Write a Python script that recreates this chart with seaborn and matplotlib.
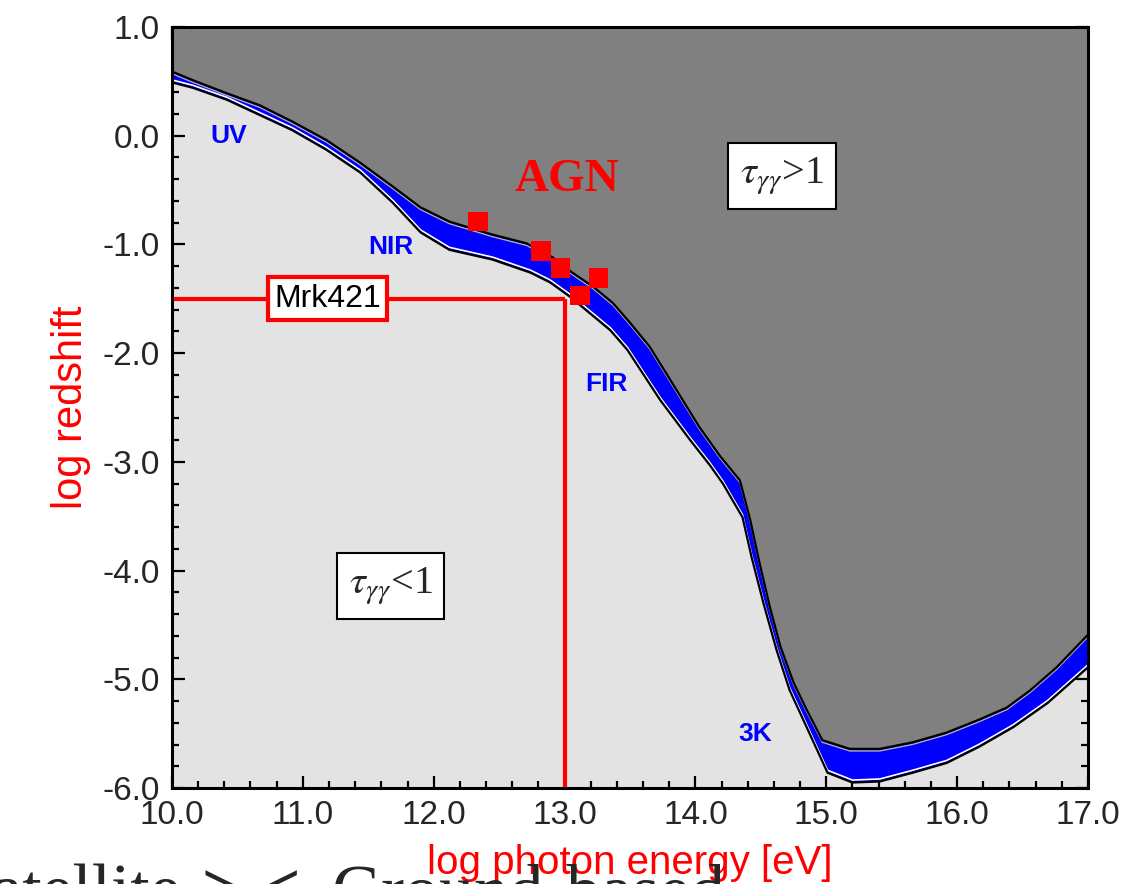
import matplotlib
matplotlib.use("Agg")
import matplotlib.pyplot as plt
import matplotlib.patheffects as pe
from matplotlib.ticker import MultipleLocator, FormatStrFormatter
import seaborn as sns

# optical depth tau=1 boundary band
upper_x = [10.0, 10.16, 10.42, 10.67, 10.92, 11.18, 11.44, 11.69, 11.90, 12.12, 12.45, 12.71,
           12.91, 13.06, 13.22, 13.37, 13.50, 13.65, 13.81, 14.03, 14.19, 14.34, 14.42, 14.49,
           14.57, 14.65, 14.75, 14.85, 14.97, 15.18, 15.41, 15.66, 15.92, 16.17, 16.38, 16.56,
           16.76, 17.0]
upper_y = [0.59, 0.51, 0.39, 0.28, 0.13, -0.04, -0.25, -0.47, -0.66, -0.79, -0.91, -0.99,
           -1.12, -1.26, -1.39, -1.54, -1.72, -1.94, -2.25, -2.68, -2.95, -3.17, -3.54, -3.93,
           -4.34, -4.70, -5.03, -5.28, -5.56, -5.64, -5.64, -5.58, -5.49, -5.37, -5.26, -5.10,
           -4.89, -4.59]
lower_x = [10.0, 10.16, 10.42, 10.67, 10.92, 11.18, 11.44, 11.69, 11.90, 12.12, 12.45, 12.74,
           12.89, 13.04, 13.19, 13.35, 13.48, 13.73, 13.96, 14.11, 14.21, 14.36, 14.43, 14.52,
           14.62, 14.72, 14.85, 15.01, 15.20, 15.41, 15.66, 15.92, 16.17, 16.43, 16.69, 17.0]
lower_y = [0.49, 0.44, 0.33, 0.19, 0.05, -0.13, -0.34, -0.62, -0.89, -1.05, -1.14, -1.26,
           -1.35, -1.48, -1.63, -1.79, -1.97, -2.43, -2.80, -3.03, -3.20, -3.51, -3.88, -4.30,
           -4.73, -5.10, -5.44, -5.86, -5.95, -5.94, -5.86, -5.77, -5.62, -5.44, -5.22, -4.89]

# AGN points
agn_x = [12.34, 12.82, 12.97, 13.12, 13.26]
agn_y = [-0.79, -1.06, -1.22, -1.47, -1.31]

# Mrk421
mrk_energy = 13.0
mrk_z = -1.5

sns.set_theme(style="ticks")
plt.rcParams["font.family"] = ["Liberation Sans", "DejaVu Sans"]
plt.rcParams["axes.unicode_minus"] = False
plt.rcParams["mathtext.fontset"] = "stix"

fig = plt.figure(figsize=(11.3, 8.84), dpi=100)
ax = fig.add_axes([0.1522, 0.1086, 0.8106, 0.8609])
ax.set_facecolor("#e3e3e3")

# regions
ax.fill(upper_x + [17.0, 10.0], upper_y + [1.0, 1.0], color="#808080", lw=0, zorder=1)
ax.fill(upper_x + lower_x[::-1], upper_y + lower_y[::-1], color="#0000ff", lw=0, zorder=2)

sns.lineplot(x=upper_x, y=upper_y, sort=False, estimator=None, color="black", lw=1.6, ax=ax,
             zorder=3, path_effects=[pe.SimpleLineShadow(offset=(0, -1.5), shadow_color="#b0b0b0",
                                                         alpha=1, linewidth=1.0), pe.Normal()])
sns.lineplot(x=lower_x, y=lower_y, sort=False, estimator=None, color="black", lw=1.6, ax=ax,
             zorder=3, path_effects=[pe.SimpleLineShadow(offset=(0, 1.8), shadow_color="white",
                                                         alpha=1, linewidth=1.2), pe.Normal()])

# Mrk421 guide lines
ax.plot([10.0, mrk_energy], [mrk_z, mrk_z], color="red", lw=3, zorder=4, solid_capstyle="butt")
ax.plot([mrk_energy, mrk_energy], [mrk_z, -6.0], color="red", lw=3, zorder=4, solid_capstyle="butt")
ax.text(11.19, mrk_z, "Mrk421", fontsize=23, color="black", ha="center", va="center", zorder=6,
        bbox=dict(boxstyle="square,pad=0.2", fc="white", ec="red", lw=3))

sns.scatterplot(x=agn_x, y=agn_y, marker="s", s=200, color="red", edgecolor="none", ax=ax, zorder=5)

# labels
for lbl, lx, ly in [("UV", 10.43, 0.0), ("NIR", 11.67, -1.02), ("FIR", 13.32, -2.28), ("3K", 14.46, -5.5)]:
    ax.text(lx, ly, lbl, color="#0000ff", fontsize=19, fontweight="bold", ha="center", va="center", zorder=6)
ax.text(13.02, -0.41, "AGN", color="red", fontsize=34, fontweight="bold", family="Liberation Serif",
        ha="center", va="center", zorder=6)
ax.text(14.66, -0.37, r"$\tau_{\gamma\gamma}$>1", fontsize=29, family="Liberation Serif",
        ha="center", va="center", zorder=6,
        bbox=dict(boxstyle="square,pad=0.3", fc="white", ec="black", lw=1.5))
ax.text(11.67, -4.14, r"$\tau_{\gamma\gamma}$<1", fontsize=29, family="Liberation Serif",
        ha="center", va="center", zorder=6,
        bbox=dict(boxstyle="square,pad=0.3", fc="white", ec="black", lw=1.5))

# axes
ax.set_xlim(10, 17)
ax.set_ylim(-6, 1)
ax.xaxis.set_major_locator(MultipleLocator(1.0))
ax.xaxis.set_minor_locator(MultipleLocator(0.2))
ax.yaxis.set_major_locator(MultipleLocator(1.0))
ax.yaxis.set_minor_locator(MultipleLocator(0.2))
ax.xaxis.set_major_formatter(FormatStrFormatter("%.1f"))
ax.yaxis.set_major_formatter(FormatStrFormatter("%.1f"))
ax.tick_params(which="both", direction="in", top=True, right=True, color="black", width=1.6)
ax.tick_params(which="major", length=9, labelsize=24, pad=9)
ax.tick_params(which="minor", length=5)
for sp in ax.spines.values():
    sp.set_color("black")
    sp.set_linewidth(2.2)
    sp.set_zorder(7)
ax.set_xlabel("log photon energy [eV]", color="red", fontsize=29, labelpad=9)
ax.set_ylabel("log redshift", color="red", fontsize=30, labelpad=8)

# cut-off caption below the plot (only the top of the letters is visible)
cap_y = 1 - 912 / 884
fig.text(0.160, cap_y, "Satellite", fontsize=50, family="Liberation Serif", va="baseline", ha="right")
fig.text(0.196, cap_y, ">", fontsize=50, family="Liberation Serif", fontweight="bold", va="baseline", ha="center")
fig.text(0.248, cap_y, "<", fontsize=50, family="Liberation Serif", fontweight="bold", va="baseline", ha="center")
fig.text(0.293, cap_y, "Ground-based", fontsize=50, family="Liberation Serif", va="baseline", ha="left")

fig.savefig("out.png", dpi=100)
